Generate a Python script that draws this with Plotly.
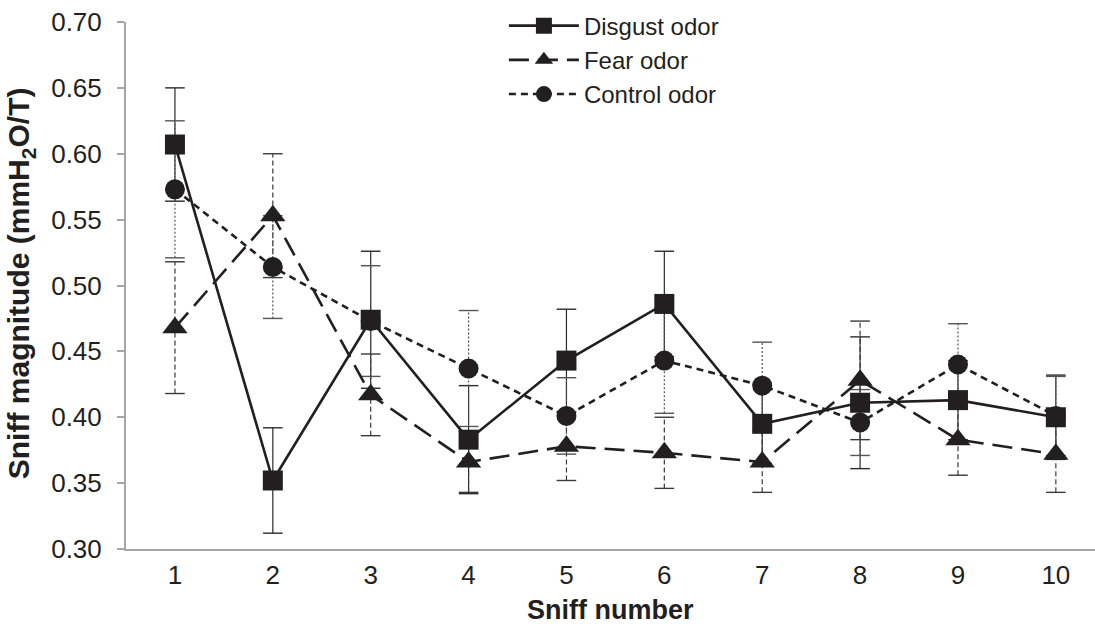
import plotly.graph_objects as go

sniff = [1, 2, 3, 4, 5, 6, 7, 8, 9, 10]
tick_labels = ["1", "2", "3", "4", "5", "6", "7", "8", "9", "10"]

disgust = [0.607, 0.352, 0.474, 0.383, 0.443, 0.486, 0.395, 0.411, 0.413, 0.400]
disgust_err = [0.043, 0.040, 0.052, 0.041, 0.039, 0.040, 0.030, 0.050, 0.030, 0.032]
fear = [0.468, 0.553, 0.417, 0.366, 0.378, 0.373, 0.366, 0.428, 0.383, 0.372]
fear_err = [0.050, 0.047, 0.031, 0.023, 0.026, 0.027, 0.023, 0.045, 0.027, 0.029]
control = [0.573, 0.514, 0.473, 0.437, 0.401, 0.443, 0.424, 0.396, 0.440, 0.401]
control_err = [0.052, 0.039, 0.042, 0.044, 0.029, 0.040, 0.033, 0.025, 0.031, 0.030]

INK = "#231f20"
FONT = "Liberation Sans, Arial, sans-serif"

series = [
    ("Disgust odor", disgust, disgust_err, "square", "solid", "#2a2a2a", "solid"),
    ("Fear odor", fear, fear_err, "triangle-up", "20px,9px", "#3a3a3a", "5px,3px"),
    ("Control odor", control, control_err, "circle", "7px,5px", "#555555", "2px,2px"),
]

fig = go.Figure()

# error bars (stems with dash style + caps)
for name, vals, errs, sym, dash, ecol, edash in series:
    xs, ys = [], []
    for x, v, e in zip(sniff, vals, errs):
        xs += [x, x, None]
        ys += [v - e, v + e, None]
    fig.add_trace(go.Scatter(x=xs, y=ys, mode="lines", showlegend=False, hoverinfo="skip",
                             line=dict(color=ecol, width=1.2, dash=edash)))
    cx = sniff + sniff
    cy = [v + e for v, e in zip(vals, errs)] + [v - e for v, e in zip(vals, errs)]
    fig.add_trace(go.Scatter(x=cx, y=cy, mode="markers", showlegend=False, hoverinfo="skip",
                             marker=dict(symbol="line-ew-open", size=14, color=ecol,
                                         line=dict(color=ecol, width=1.4))))

for name, vals, errs, sym, dash, ecol, edash in series:
    msize = 22 if sym == "triangle-up" else 20
    fig.add_trace(go.Scatter(x=sniff, y=vals, mode="lines+markers", name=name,
                             line=dict(color=INK, width=2.6, dash=dash),
                             marker=dict(symbol=sym, size=msize, color=INK)))

fig.update_layout(
    width=1095, height=624,
    margin=dict(l=126, r=0, t=22, b=75),
    paper_bgcolor="white", plot_bgcolor="white",
    font=dict(family=FONT, size=26, color=INK),
    showlegend=True,
    legend=dict(x=0.39, y=1.035, xanchor="left", yanchor="top",
                bgcolor="rgba(0,0,0,0)", font=dict(size=24, color=INK),
                itemwidth=70, tracegroupgap=0),
    xaxis=dict(range=[0.5, 10.4], tickmode="array", tickvals=sniff, ticktext=tick_labels,
               showgrid=False, zeroline=False, showline=True, linecolor="#a6a6a6", linewidth=2,
               ticks="", tickfont=dict(size=26, color=INK), ticklabelstandoff=2),
    yaxis=dict(range=[0.30, 0.70], tickmode="array",
               tickvals=[0.30, 0.35, 0.40, 0.45, 0.50, 0.55, 0.60, 0.65, 0.70],
               tickformat=".2f",
               showgrid=False, zeroline=False, showline=True, linecolor="#a6a6a6", linewidth=2,
               ticks="outside", ticklen=7, tickcolor="#a6a6a6", tickwidth=2,
               tickfont=dict(size=26, color=INK), ticklabelstandoff=10),
    annotations=[
        dict(text="<b>Sniff number</b>", xref="paper", yref="paper", x=0.5, y=-0.1157,
             xanchor="center", yanchor="middle", showarrow=False,
             font=dict(size=27, color=INK, family=FONT)),
        dict(text="<b>Sniff magnitude (mmH<sub>2</sub>O/T)</b>", xref="paper", yref="paper",
             x=-0.108, y=0.505, xanchor="center", yanchor="middle", textangle=-90,
             showarrow=False, font=dict(size=30, color=INK, family=FONT)),
    ],
)

fig.write_html("out.html")
